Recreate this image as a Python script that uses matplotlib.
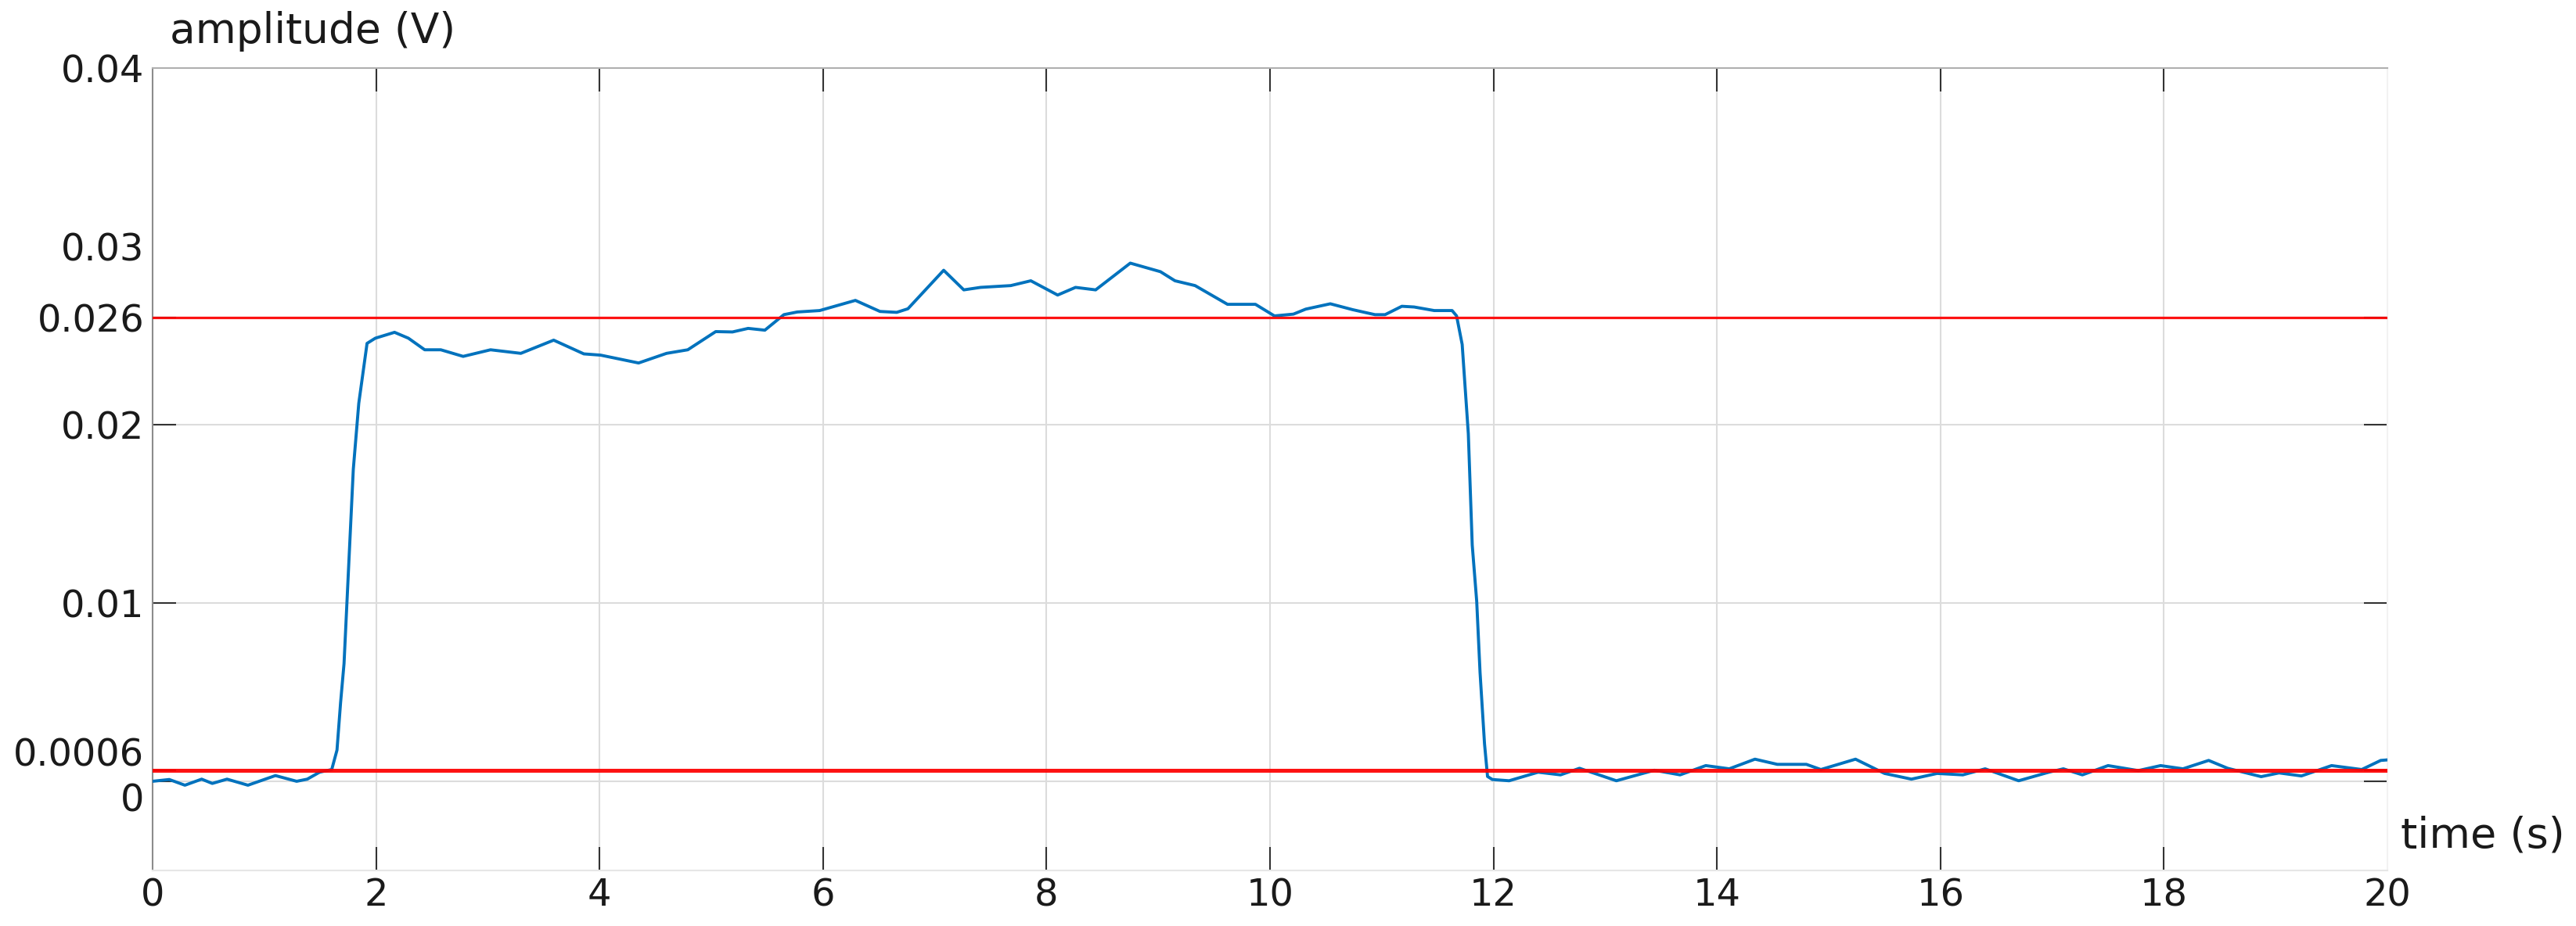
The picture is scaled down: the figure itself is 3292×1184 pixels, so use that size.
import matplotlib
matplotlib.use("Agg")
import matplotlib.pyplot as plt
from matplotlib.transforms import ScaledTranslation

# ---------------- data ----------------
time_s = [0.00, 0.15, 0.29, 0.44, 0.535, 0.667, 0.854, 1.10, 1.29, 1.385,
          1.495, 1.604, 1.651, 1.683, 1.714, 1.755, 1.797, 1.846, 1.92, 1.994,
          2.166, 2.29, 2.436, 2.58, 2.78, 3.025, 3.296, 3.59, 3.86, 4.01,
          4.35, 4.60, 4.79, 5.04, 5.19, 5.33, 5.48, 5.65, 5.77, 5.97,
          6.29, 6.51, 6.66, 6.76, 7.08, 7.26, 7.41, 7.68, 7.86, 8.10,
          8.26, 8.44, 8.75, 9.02, 9.15, 9.33, 9.62, 9.87, 10.04, 10.21,
          10.32, 10.54, 10.74, 10.94, 11.03, 11.18, 11.29, 11.47, 11.63, 11.67,
          11.72, 11.775, 11.81, 11.85, 11.88, 11.92, 11.947, 11.99, 12.14, 12.40,
          12.60, 12.77, 13.10, 13.44, 13.67, 13.90, 14.11, 14.34, 14.54, 14.80,
          14.93, 15.24, 15.50, 15.74, 15.97, 16.20, 16.40, 16.70, 16.97, 17.10,
          17.27, 17.50, 17.77, 17.97, 18.17, 18.40, 18.57, 18.87, 19.03, 19.23,
          19.50, 19.77, 19.94, 20.00]
amplitude_v = [0.00000, 0.00010, -0.00022, 0.00012, -0.00012, 0.00012, -0.00022, 0.00032, 0.00000, 0.00012,
               0.00051, 0.00066, 0.00175, 0.00440, 0.00660, 0.01200, 0.01750, 0.02120, 0.02456, 0.02485,
               0.02518, 0.02485, 0.02420, 0.02420, 0.02383, 0.02420, 0.02400, 0.02474, 0.02397, 0.02390,
               0.02346, 0.02400, 0.02420, 0.02522, 0.02520, 0.02540, 0.02530, 0.02617, 0.02632, 0.02640,
               0.02697, 0.02635, 0.02630, 0.02650, 0.02866, 0.02756, 0.02770, 0.02780, 0.02807, 0.02727,
               0.02770, 0.02756, 0.02906, 0.02858, 0.02807, 0.02780, 0.02675, 0.02675, 0.02610, 0.02620,
               0.02648, 0.02678, 0.02645, 0.02617, 0.02617, 0.02664, 0.02660, 0.02640, 0.02640, 0.02610,
               0.02450, 0.01950, 0.01325, 0.01010, 0.00610, 0.00210, 0.00027, 0.00010, 0.00003, 0.00051,
               0.00036, 0.00073, 0.00003, 0.00062, 0.00036, 0.00088, 0.00070, 0.00124, 0.00095, 0.00095,
               0.00066, 0.00124, 0.00044, 0.00012, 0.00044, 0.00036, 0.00070, 0.00003, 0.00051, 0.00070,
               0.00036, 0.00088, 0.00060, 0.00088, 0.00070, 0.00117, 0.00073, 0.00026, 0.00047, 0.00030,
               0.00088, 0.00066, 0.00117, 0.00120]
thresholds = [0.026, 0.0006]
x_ticks = [0, 2, 4, 6, 8, 10, 12, 14, 16, 18, 20]
y_ticks = [0, 0.0006, 0.01, 0.02, 0.026, 0.03, 0.04]
y_tick_labels = ['0', '0.0006', '0.01', '0.02', '0.026', '0.03', '0.04']
y_label_shift_px = [-20, 24, 0, 0, 0, 0, 0]   # labels pushed apart in the original
y_ticks_unmarked = [0.03, 0.04]
x_ticks_unmarked = [0, 20]

# ---------------- figure ----------------
plt.rcParams['font.family'] = ['DejaVu Sans']
DPI = 100
fig = plt.figure(figsize=(32.92, 11.84), dpi=DPI)
ax = fig.add_axes([0.0592, 0.0600, 0.8676, 0.8665])

ax.plot(time_s, amplitude_v, color='#0072BD', lw=2.8, zorder=3,
        solid_joinstyle='round', solid_capstyle='round')
for thr, lw in zip(thresholds, [2.3, 3.6]):
    ax.axhline(thr, color='#ff0000', lw=lw, zorder=4, alpha=0.92)

ax.set_xlim(0, 20)
ax.set_ylim(-0.005, 0.04)
ax.set_xticks(x_ticks)
ax.set_xticklabels([str(v) for v in x_ticks])
ax.set_yticks(y_ticks)
ax.set_yticklabels(y_tick_labels)

ax.tick_params(axis='both', direction='in', length=21.6, width=1.5,
               color='#333333', labelsize=34.5, labelcolor='#1a1a1a',
               top=True, right=True)
ax.tick_params(axis='x', pad=6)
ax.tick_params(axis='y', pad=7.5)
ax.grid(True, color='#dcdcdc', lw=1.5)
ax.set_axisbelow(True)

for val, tick in zip(x_ticks, ax.xaxis.get_major_ticks()):
    if val in x_ticks_unmarked:
        tick.tick1line.set_visible(False)
        tick.tick2line.set_visible(False)
        tick.gridline.set_visible(False)
for val, tick, dy in zip(y_ticks, ax.yaxis.get_major_ticks(), y_label_shift_px):
    if val in y_ticks_unmarked:
        tick.tick1line.set_visible(False)
        tick.tick2line.set_visible(False)
        tick.gridline.set_visible(False)
    if dy:
        tick.label1.set_transform(tick.label1.get_transform() +
                                  ScaledTranslation(0, dy / DPI, fig.dpi_scale_trans))

ax.spines['left'].set_color('#8c8c8c')
ax.spines['top'].set_color('#b0b0b0')
ax.spines['bottom'].set_color('#e6e6e6')
ax.spines['right'].set_color('#f2f2f2')
for s in ax.spines.values():
    s.set_linewidth(1.5)

fig.text(217 / 3292, 1 - 55 / 1184, 'amplitude (V)', ha='left', va='baseline',
         fontsize=38.5, color='#1a1a1a')
fig.text(3068 / 3292, 1 - 1084 / 1184, 'time (s)', ha='left', va='baseline',
         fontsize=39, color='#1a1a1a')

fig.savefig('out.png', dpi=DPI, facecolor='white')
